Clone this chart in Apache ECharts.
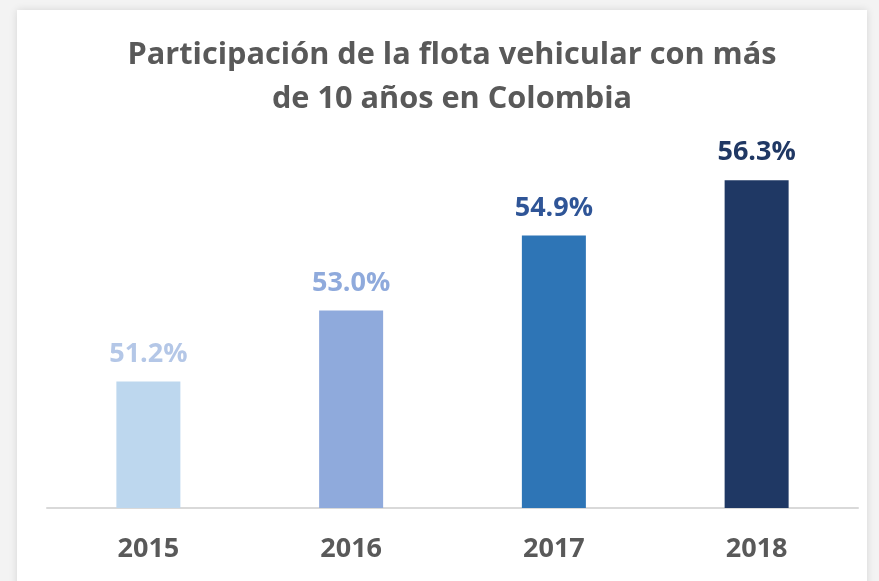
<!DOCTYPE html>
<html><head><meta charset="utf-8">
<script src="https://cdn.jsdelivr.net/npm/echarts@6/dist/echarts.min.js"></script>
<style>html,body{margin:0;padding:0;background:#f3f3f3;}#c{width:879px;height:581px;}</style>
</head><body><div id="c"></div>
<script>
const categories = ['2015', '2016', '2017', '2018'];
const values = [51.2, 53.0, 54.9, 56.3];
const barColors = ['#bdd7ee', '#8faadc', '#2e75b6', '#1f3864'];
const labelColors = ['#b4c7e7', '#8faadc', '#2f5597', '#203864'];
const titleText = 'Participación de la flota vehicular con más\nde 10 años en Colombia';

const chart = echarts.init(document.getElementById('c'));
chart.setOption({
  backgroundColor: '#f3f3f3',
  animation: false,
  graphic: [{
    type: 'rect', left: 17, top: 10, z: -10,
    shape: { width: 850, height: 600 },
    style: { fill: '#ffffff', shadowBlur: 8, shadowColor: 'rgba(0,0,0,0.12)' }
  }, {
    type: 'text', x: 452, y: 33, z: 10,
    style: {
      text: titleText, align: 'center', verticalAlign: 'top',
      fontFamily: 'Open Sans', fontWeight: 'bold', fontSize: 30.7, lineHeight: 44, fill: '#595959'
    }
  }],
  grid: { left: 47, right: 21, top: 152.5, bottom: 73 },
  xAxis: {
    type: 'category', data: categories,
    axisLine: { lineStyle: { color: '#d9d9d9', width: 2 } },
    axisTick: { show: false },
    axisLabel: { margin: 28, fontFamily: 'Open Sans', fontWeight: 'bold', fontSize: 27, color: '#595959' }
  },
  yAxis: { type: 'value', min: 48, max: 57, show: false, splitLine: { show: false } },
  series: [{
    type: 'bar', barWidth: 64,
    data: values.map((v, i) => ({
      value: v,
      itemStyle: { color: barColors[i] },
      label: { color: labelColors[i] }
    })),
    label: {
      show: true, position: 'top', distance: 14,
      fontFamily: 'Open Sans', fontWeight: 'bold', fontSize: 27,
      formatter: p => p.value.toFixed(1) + '%'
    }
  }]
});
</script></body></html>
